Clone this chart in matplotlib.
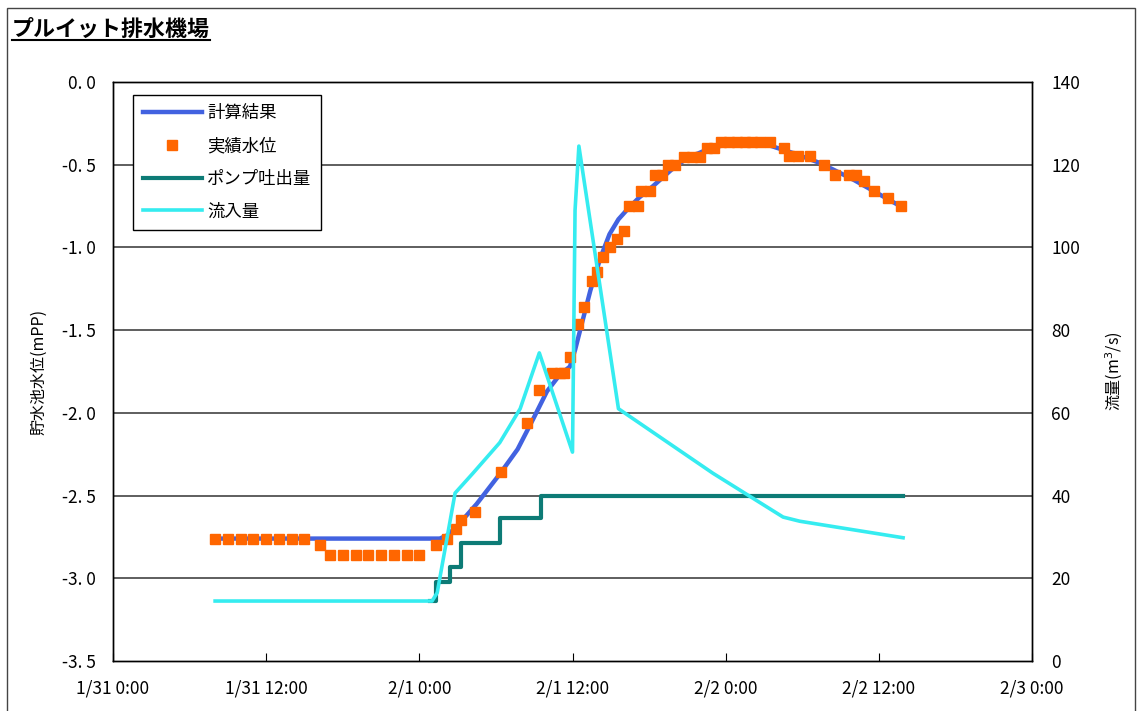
import matplotlib
matplotlib.use('Agg')
import matplotlib.pyplot as plt
from matplotlib.lines import Line2D
from matplotlib.patches import Rectangle

plt.rcParams['font.family'] = ['Noto Sans CJK JP', 'DejaVu Sans']

# hours from 1/31 0:00
calc_t = [8, 25.6, 26.2, 27.0, 27.7, 28.5, 30.3, 31.7, 32.9, 34.0, 35.0, 35.8, 36.2,
          36.6, 37.4, 38.2, 38.9, 39.6, 40.3, 41.2, 42.3, 43.9, 45.0, 46.5, 48.6,
          50.9, 53.3, 55.4, 58.0, 61.9]
calc_level = [-2.76, -2.76, -2.74, -2.68, -2.62, -2.55, -2.37, -2.22, -2.04, -1.87,
              -1.77, -1.72, -1.62, -1.50, -1.26, -1.06, -0.92, -0.83, -0.77, -0.70,
              -0.63, -0.52, -0.46, -0.41, -0.365, -0.37, -0.43, -0.49, -0.59, -0.76]

obs_t = [8, 9, 10, 11, 12, 13, 14, 15, 16.2, 17, 18, 19, 20, 21, 22, 23, 24,
         25.3, 26.2, 26.9, 27.3, 28.4, 30.4, 32.4, 33.4, 34.4, 35.0, 35.3, 35.8,
         36.4, 36.9, 37.5, 37.9, 38.4, 38.9, 39.5, 40.0, 40.4, 41.1, 41.4, 42.1,
         42.5, 43.0, 43.5, 44.0, 44.7, 45.4, 46.0, 46.5, 47.1, 47.6, 48.3, 48.9,
         49.5, 50.1, 50.7, 51.5, 52.6, 53.0, 53.7, 54.6, 55.7, 56.6, 57.7, 58.2,
         58.8, 59.6, 60.7, 61.7]
obs_level = [-2.76, -2.76, -2.76, -2.76, -2.76, -2.76, -2.76, -2.76, -2.80,
             -2.86, -2.86, -2.86, -2.86, -2.86, -2.86, -2.86, -2.86,
             -2.80, -2.76, -2.70, -2.65, -2.60, -2.36, -2.06, -1.86, -1.76, -1.76,
             -1.76, -1.66, -1.46, -1.36, -1.20, -1.15, -1.06, -1.00, -0.95, -0.90,
             -0.75, -0.75, -0.66, -0.66, -0.56, -0.56, -0.50, -0.50, -0.455, -0.455,
             -0.455, -0.40, -0.40, -0.36, -0.36, -0.36, -0.36, -0.36, -0.36, -0.36,
             -0.40, -0.45, -0.45, -0.45, -0.50, -0.56, -0.56, -0.56, -0.60, -0.66,
             -0.70, -0.75]

pump_t = [24.8, 25.3, 26.4, 27.3, 30.3, 33.5, 61.9]
pump_q = [14.5, 19.0, 22.7, 28.5, 34.6, 40.0, 40.0]

inflow_t = [8, 25.0, 25.4, 26.8, 28.2, 30.3, 31.9, 33.4, 36.0, 36.2, 36.5, 39.6,
            47.0, 52.5, 53.8, 61.9]
inflow_q = [14.5, 14.5, 16.5, 40.6, 45.4, 52.8, 61.0, 74.5, 50.5, 109, 124.5, 61.0,
            45.4, 34.8, 33.8, 29.8]

x_ticks = [0, 12, 24, 36, 48, 60, 72]
x_labels = ['1/31 0:00', '1/31 12:00', '2/1 0:00', '2/1 12:00', '2/2 0:00',
            '2/2 12:00', '2/3 0:00']
y_ticks = [0.0, -0.5, -1.0, -1.5, -2.0, -2.5, -3.0, -3.5]
y_labels = ['0. 0', '-0. 5', '-1. 0', '-1. 5', '-2. 0', '-2. 5', '-3. 0', '-3. 5']
q_ticks = [0, 20, 40, 60, 80, 100, 120, 140]

W, H = 1137, 711
fig = plt.figure(figsize=(W / 100, H / 100), dpi=100)
ax = fig.add_axes([113 / W, 1 - 661 / H, 919 / W, 579 / H])
ax2 = ax.twinx()

for yv in y_ticks[1:-1]:
    ax.axhline(yv, color='#333333', lw=1.1, zorder=0)

ax.plot(calc_t, calc_level, color='#4262E0', lw=3.2, label='計算結果', zorder=2)
ax.plot(obs_t, obs_level, ls='none', marker='s', ms=7.0, color='#FF6600',
        mec='#FF6600', label='実績水位', zorder=3)
ax2.plot(pump_t, pump_q, color='#0D7B76', lw=3.0, drawstyle='steps-post',
         label='ポンプ吐出量')
ax2.plot(inflow_t, inflow_q, color='#35ECF0', lw=2.6, label='流入量')

ax.set_xlim(0, 72)
ax.set_ylim(-3.5, 0)
ax2.set_ylim(0, 140)
ax.set_xticks(x_ticks)
ax.set_xticklabels(x_labels, fontsize=12.5)
ax.set_yticks(y_ticks)
ax.set_yticklabels(y_labels, fontsize=12.5)
ax2.set_yticks(q_ticks)
ax2.set_yticklabels([str(q) for q in q_ticks], fontsize=12.5)
ax.tick_params(axis='x', direction='in', length=6, pad=13)
ax.tick_params(axis='y', direction='in', length=0, pad=12)
ax2.tick_params(axis='y', direction='in', length=0, pad=14)

ax.set_ylabel('貯水池水位(mPP)', fontsize=11.5)
ax.yaxis.set_label_coords(-0.071, 0.5)
ax2.set_ylabel('流量(m$^3$/s)', fontsize=11.5)
ax2.yaxis.set_label_coords(1.078, 0.5)

for a in (ax, ax2):
    for s in a.spines.values():
        s.set_color('black')
        s.set_linewidth(1.0)

h1, l1 = ax.get_legend_handles_labels()
h2, l2 = ax2.get_legend_handles_labels()
leg = ax2.legend(h1 + h2, l1 + l2, loc='upper left', bbox_to_anchor=(0.022, 0.978),
                 fontsize=12.5, frameon=True, fancybox=False, edgecolor='black',
                 framealpha=1, handlelength=3.4, handletextpad=0.3,
                 labelspacing=0.85, borderpad=0.55, borderaxespad=0)
leg.get_frame().set_linewidth(1.0)

title = fig.text(12 / W, 1 - 29 / H, 'プルイット排水機場', fontsize=15.8,
                 fontweight='bold', va='center', ha='left')
fig.canvas.draw()
bb = title.get_window_extent()
fig.add_artist(Line2D([bb.x0 / W, bb.x1 / W], [1 - 40 / H, 1 - 40 / H],
                      color='black', lw=1.5, transform=fig.transFigure))
fig.add_artist(Rectangle((7 / W, -0.05), 1128 / W, 1.05 - 8 / H, fill=False,
                         edgecolor='#444444', lw=1.0, transform=fig.transFigure))

fig.savefig('out.png', dpi=100)
